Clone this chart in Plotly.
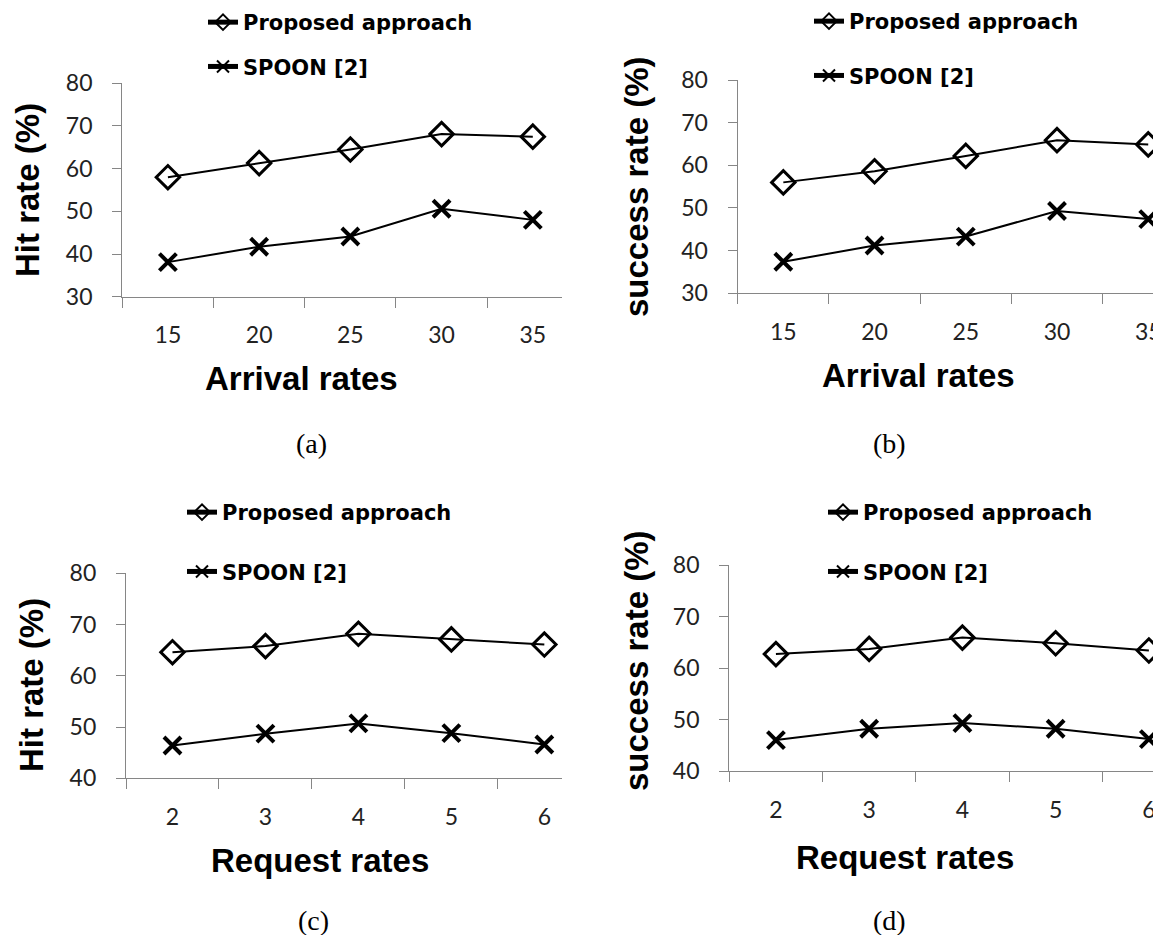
import plotly.graph_objects as go

# ---------------- data ----------------
arrival_rates = ["15", "20", "25", "30", "35"]
request_rates = ["2", "3", "4", "5", "6"]

a_proposed = [58.0, 61.3, 64.5, 68.1, 67.5]
a_spoon = [38.1, 41.7, 44.1, 50.6, 48.0]

b_proposed = [56.0, 58.6, 62.2, 65.9, 64.9]
b_spoon = [37.4, 41.2, 43.3, 49.3, 47.4]

c_proposed = [64.6, 65.8, 68.2, 67.1, 66.1]
c_spoon = [46.4, 48.7, 50.7, 48.8, 46.6]

d_proposed = [62.7, 63.7, 65.9, 64.8, 63.4]
d_spoon = [46.0, 48.2, 49.3, 48.2, 46.2]

series_names = ["Proposed approach", "SPOON [2]"]
captions = ["(a)", "(b)", "(c)", "(d)"]
x_titles = ["Arrival rates", "Arrival rates", "Request rates", "Request rates"]
y_titles = ["Hit rate (%)", "success rate (%)", "Hit rate (%)", "success rate (%)"]

# ---------------- layout helpers (screen pixels, page body has 8px margin) ----------------
OFF = 8
W, H = 1161 - OFF, 943 - 2 * OFF

def px(x):
    return (x - OFF) / W

def py(y):
    return 1 - (y - OFF) / H

panels = [
    dict(cats=arrival_rates, prop=a_proposed, spoon=a_spoon, xl=122.3, xr=562, yb=296.7, yt=83.3, ymin=30, xend=4.32),
    dict(cats=arrival_rates, prop=b_proposed, spoon=b_spoon, xl=737.7, xr=1161, yb=293.3, yt=80.0, ymin=30, xend=4.14),
    dict(cats=request_rates, prop=c_proposed, spoon=c_spoon, xl=126.0, xr=562, yb=778.3, yt=573.3, ymin=40, xend=4.19),
    dict(cats=request_rates, prop=d_proposed, spoon=d_spoon, xl=729.3, xr=1161, yb=771.0, yt=565.0, ymin=40, xend=4.13),
]

legend_pos = [(203, 2), (809, 1), (182, 492), (823, 492)]
legend_gap = [14, 24, 29, 29]
xtitle_pos = [(301, 378), (918, 375), (320, 860), (905, 857)]
ytitle_pos = [(28, 190), (636, 187), (31, 685), (636, 661)]
caption_pos = [(311, 443), (889, 443), (313, 920), (889, 920)]

AXIS_GRAY = "#868686"
TICK_FONT = dict(family="Lato", size=23, color="#222222")
TITLE_FONT = dict(family="Liberation Sans", size=33, color="black", weight="bold")
LEG_FONT = dict(family="DejaVu Sans", size=21, color="black", weight="bold")

fig = go.Figure()
layout = dict(
    width=W, height=H,
    margin=dict(l=0, r=0, t=0, b=0, autoexpand=False),
    paper_bgcolor="white", plot_bgcolor="white",
    showlegend=True,
    annotations=[],
)

for i, p in enumerate(panels):
    n = "" if i == 0 else str(i + 1)
    leg = "legend" if i == 0 else f"legend{i + 1}"
    for name, vals, sym, size in [
        (series_names[0], p["prop"], "diamond-open", 18),
        (series_names[1], p["spoon"], "x-thin-open", 17),
    ]:
        fig.add_trace(go.Scatter(
            x=p["cats"], y=vals, name=name, mode="lines+markers",
            line=dict(color="black", width=2),
            marker=dict(symbol=sym, size=size, color="black",
                        line=dict(color="black", width=4 if "x" in sym else 3)),
            xaxis="x" + n, yaxis="y" + n, legend=leg, legendgroup=f"{name}{i}",
            cliponaxis=False,
        ))
    layout["xaxis" + n] = dict(
        domain=[px(p["xl"]), min(px(p["xr"]), 1.0)],
        anchor="y" + n, type="category", range=[-0.5, p["xend"]],
        showline=True, linecolor=AXIS_GRAY, linewidth=1.3,
        ticks="outside", tickson="boundaries", ticklen=10, tickcolor=AXIS_GRAY, tickwidth=1.3,
        tickfont=TICK_FONT, showgrid=False, zeroline=False, ticklabelstandoff=18,
        automargin=False,
    )
    layout["yaxis" + n] = dict(
        domain=[py(p["yb"]), py(p["yt"])],
        anchor="x" + n, range=[p["ymin"], 80], dtick=10,
        showline=True, linecolor=AXIS_GRAY, linewidth=1.3,
        ticks="outside", ticklen=9, tickcolor=AXIS_GRAY, tickwidth=1.3,
        tickfont=TICK_FONT, showgrid=False, zeroline=False, ticklabelstandoff=15,
        automargin=False,
    )
    lx, ly = legend_pos[i]
    layout[leg] = dict(
        x=px(lx), y=py(ly), xanchor="left", yanchor="top",
        font=LEG_FONT, bgcolor="rgba(0,0,0,0)", tracegroupgap=legend_gap[i],
        itemsizing="constant",
    )
    tx, ty = xtitle_pos[i]
    layout["annotations"].append(dict(
        x=px(tx), y=py(ty), xref="paper", yref="paper", text=x_titles[i],
        showarrow=False, font=TITLE_FONT, xanchor="center", yanchor="middle"))
    tx, ty = ytitle_pos[i]
    layout["annotations"].append(dict(
        x=px(tx), y=py(ty), xref="paper", yref="paper", text=y_titles[i],
        showarrow=False, font=TITLE_FONT, textangle=-90, xanchor="center", yanchor="middle"))
    cx, cy = caption_pos[i]
    layout["annotations"].append(dict(
        x=px(cx), y=py(cy), xref="paper", yref="paper", text=captions[i],
        showarrow=False, font=dict(family="Liberation Serif", size=28, color="black"),
        xanchor="center", yanchor="middle"))

fig.update_layout(**layout)
fig.write_html("out.html")
